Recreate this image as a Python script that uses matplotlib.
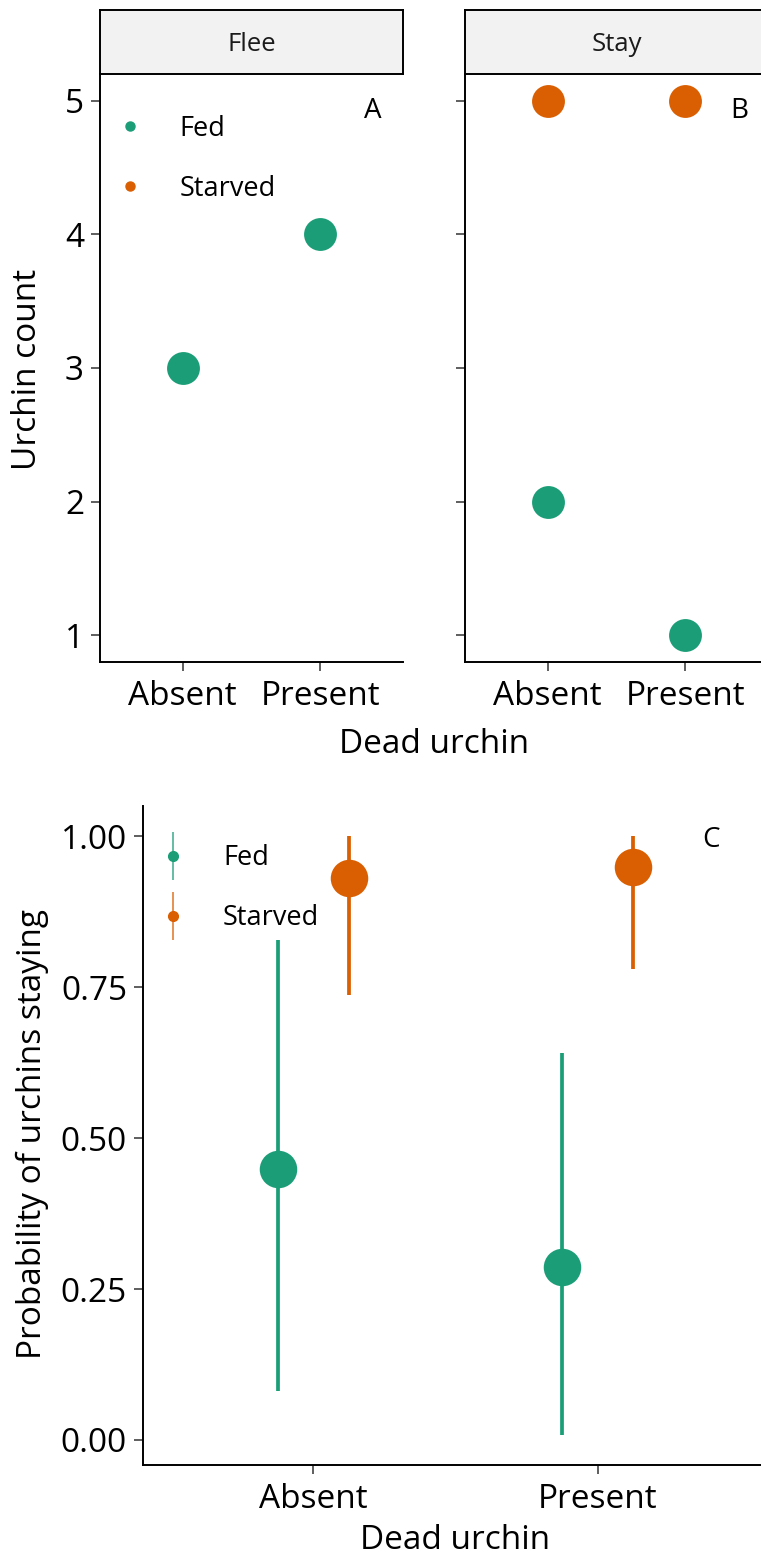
import matplotlib
matplotlib.use("Agg")
import matplotlib.pyplot as plt
from matplotlib.lines import Line2D

plt.rcParams['font.family'] = ['Open Sans', 'DejaVu Sans']

# data
dead_urchin = ['Absent', 'Present']
groups = ['Fed', 'Starved']
colors = {'Fed': '#1b9e77', 'Starved': '#d95f02'}

# panel A/B: urchin counts per behaviour
flee_fed = [3, 4]
stay_fed = [2, 1]
stay_starved = [5, 5]

# panel C: probability of staying with intervals
fed_prob = [0.449, 0.286]
fed_lo = [0.081, 0.008]
fed_hi = [0.828, 0.641]
starved_prob = [0.931, 0.949]
starved_lo = [0.737, 0.780]
starved_hi = [1.0, 1.0]

W, H = 761, 1558
fig = plt.figure(figsize=(W / 100, H / 100), dpi=100)


def px_axes(l, t, r, b):
    return fig.add_axes([l / W, 1 - b / H, (r - l) / W, (b - t) / H])


def style_axes(ax):
    for s in ['top', 'right']:
        ax.spines[s].set_visible(False)
    for s in ['left', 'bottom']:
        ax.spines[s].set_linewidth(1.4)
        ax.spines[s].set_color('black')
    ax.tick_params(length=6.5, width=1.1, color='#333333', labelsize=24)
    ax.tick_params(axis='x', pad=6.5)
    ax.tick_params(axis='y', pad=5)


def add_strip(l, t, r, b, label):
    sa = px_axes(l, t, r, b)
    sa.set_facecolor('#f2f2f2')
    sa.set_xticks([])
    sa.set_yticks([])
    for s in sa.spines.values():
        s.set_linewidth(1.4)
        s.set_color('black')
    sa.text(0.5, 0.46, label, ha='center', va='center', fontsize=18.5, color='#1a1a1a',
            transform=sa.transAxes)


def add_legend(ax, handles, anchor):
    ax.legend(handles, groups, loc='upper left', bbox_to_anchor=anchor, frameon=False,
              borderpad=0, borderaxespad=0, handlelength=1.0, handletextpad=1.33,
              labelspacing=1.19, fontsize=19.5)


xpos = range(len(dead_urchin))

# ---- panel A (Flee) ----
axA = px_axes(100, 74, 403, 662)
style_axes(axA)
axA.scatter(xpos, flee_fed, s=560, color=colors['Fed'], zorder=3, linewidths=0)
axA.set_xlim(-0.6, 1.6)
axA.set_ylim(0.8, 5.2)
axA.set_xticks(list(xpos))
axA.set_xticklabels(dead_urchin)
axA.set_yticks([1, 2, 3, 4, 5])
axA.text(1.38, 4.92, 'A', ha='center', va='center', fontsize=20)
add_legend(axA, [Line2D([], [], marker='o', ls='none', color=colors[g], markersize=6.5)
                 for g in groups], (0.054, 0.931))
add_strip(100, 10, 403, 74, 'Flee')

# ---- panel B (Stay) ----
axB = px_axes(465, 74, 768, 662)
style_axes(axB)
axB.scatter(xpos, stay_fed, s=560, color=colors['Fed'], zorder=3, linewidths=0)
axB.scatter(xpos, stay_starved, s=560, color=colors['Starved'], zorder=3, linewidths=0)
axB.set_xlim(-0.6, 1.6)
axB.set_ylim(0.8, 5.2)
axB.set_xticks(list(xpos))
axB.set_xticklabels(dead_urchin)
axB.set_yticks([1, 2, 3, 4, 5])
axB.set_yticklabels([])
axB.text(1.39, 4.92, 'B', ha='center', va='center', fontsize=20)
add_strip(465, 10, 768, 74, 'Stay')

fig.text(434 / W, 1 - 744 / H, 'Dead urchin', ha='center', va='center', fontsize=24)
fig.text(28 / W, 1 - 369 / H, 'Urchin count', ha='center', va='center', rotation=90, fontsize=24)

# ---- panel C ----
axC = px_axes(143, 806, 768, 1465)
style_axes(axC)
dodge = 0.125
for g, prob, lo, hi, off in [('Fed', fed_prob, fed_lo, fed_hi, -dodge),
                             ('Starved', starved_prob, starved_lo, starved_hi, dodge)]:
    xs = [x + off for x in xpos]
    axC.vlines(xs, lo, hi, color=colors[g], linewidth=2.7, zorder=2)
    axC.plot(xs, prob, 'o', ls='none', color=colors[g], markersize=27, markeredgewidth=0, zorder=3)
axC.set_xlim(-0.6, 1.6)
axC.set_ylim(-0.0415, 1.05)
axC.set_xticks(list(xpos))
axC.set_xticklabels(dead_urchin)
axC.set_yticks([0, 0.25, 0.5, 0.75, 1.0])
axC.set_yticklabels(['0.00', '0.25', '0.50', '0.75', '1.00'])
axC.text(1.4, 0.994, 'C', ha='center', va='center', fontsize=20)
axC.set_xlabel('Dead urchin', fontsize=24, labelpad=5.5)
fig.text(32 / W, 1 - 1134 / H, 'Probability of urchins staying', ha='center', va='center',
         rotation=90, fontsize=24)
add_legend(axC, [(Line2D([], [], marker='|', ls='none', color=colors[g], markersize=34,
                         markeredgewidth=1.2, alpha=0.8),
                  Line2D([], [], marker='o', ls='none', color=colors[g], markersize=7))
                 for g in groups], (0.027, 0.942))

fig.savefig('out.png', dpi=100)
